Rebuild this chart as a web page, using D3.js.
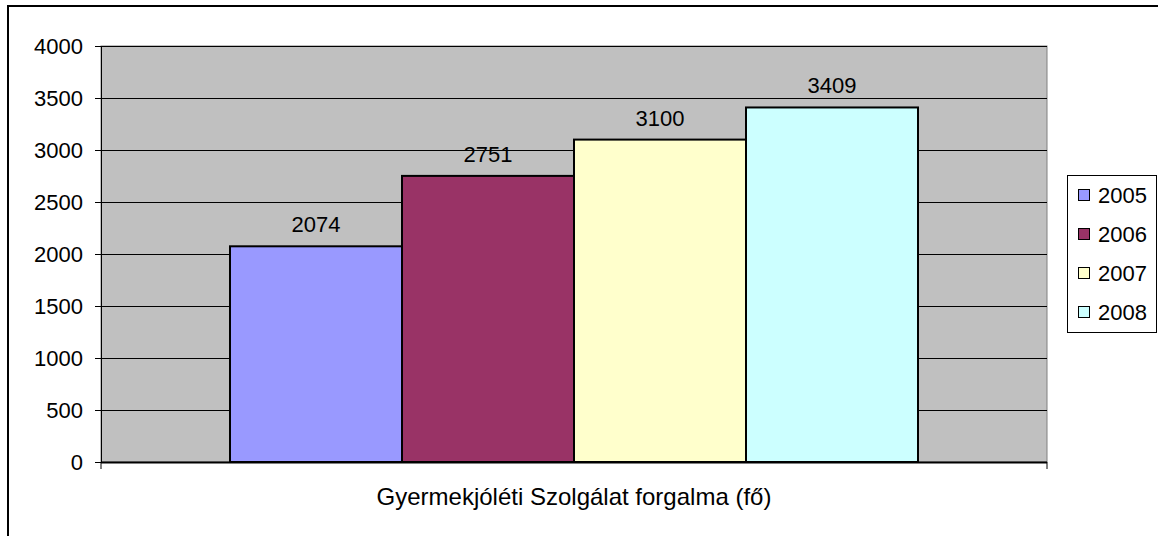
<!DOCTYPE html>
<html>
<head>
<meta charset="utf-8">
<script src="https://cdn.jsdelivr.net/npm/d3@7"></script>
<style>
  body { margin: 0; background: #fff; }
  svg text { font-family: Arial, "Liberation Sans", sans-serif; fill: #000; }
</style>
</head>
<body>
<div class="canvas"></div>
<script>
// chart data
const category = 'Gyermekjóléti Szolgálat forgalma (fő)';
const years = ['2005', '2006', '2007', '2008'];
const values = [2074, 2751, 3100, 3409];
const yTicks = [0, 500, 1000, 1500, 2000, 2500, 3000, 3500, 4000];
const colors = ['#9999ff', '#993366', '#ffffcc', '#ccffff'];

// plot area
const plot = { left: 101, top: 46, right: 1047, bottom: 462 };

const svg = d3.select('.canvas')
  .append('svg')
  .attr('width', 1158)
  .attr('height', 536);

// chart border
svg.append('rect')
  .attr('x', 8).attr('y', 6)
  .attr('width', 1170).attr('height', 550)
  .attr('fill', '#fff')
  .attr('stroke', '#000')
  .attr('stroke-width', 2);

// scales
const y = d3.scaleLinear()
  .domain([0, 4000])
  .range([plot.bottom, plot.top]);

const x0 = d3.scaleBand()
  .domain([category])
  .range([plot.left, plot.right]);

// gap width 150% -> bars take 4 / 5.5 of the band
const groupW = x0.bandwidth() * 4 / 5.5;
const x1 = d3.scaleBand()
  .domain(years)
  .range([x0(category) + (x0.bandwidth() - groupW) / 2, x0(category) + (x0.bandwidth() + groupW) / 2]);

// plot background
svg.append('rect')
  .attr('x', plot.left).attr('y', plot.top)
  .attr('width', plot.right - plot.left)
  .attr('height', plot.bottom - plot.top)
  .attr('fill', '#c0c0c0')
  .attr('stroke', '#808080')
  .attr('stroke-width', 1);

// gridlines
svg.append('g')
  .selectAll('line')
  .data(yTicks.filter(d => d > 0))
  .enter().append('line')
    .attr('x1', plot.left).attr('x2', plot.right)
    .attr('y1', d => Math.round(y(d)) + 0.5)
    .attr('y2', d => Math.round(y(d)) + 0.5)
    .attr('stroke', '#000')
    .attr('stroke-width', 1);

// y axis
const yAxis = d3.axisLeft(y)
  .tickValues(yTicks)
  .tickSize(6)
  .tickPadding(12)
  .tickFormat(d3.format('d'));

const yAxisGroup = svg.append('g')
  .attr('transform', `translate(${plot.left}, 0)`)
  .call(yAxis);
yAxisGroup.select('.domain').attr('stroke', '#000');
yAxisGroup.selectAll('.tick line').attr('stroke', '#000');
yAxisGroup.selectAll('text')
  .attr('font-size', '22px')
  .attr('font-family', 'Arial, "Liberation Sans", sans-serif')
  .attr('fill', '#000');

// bars
svg.append('g')
  .selectAll('rect')
  .data(values)
  .enter().append('rect')
    .attr('x', (d, i) => x1(years[i]))
    .attr('y', d => y(d))
    .attr('width', x1.bandwidth())
    .attr('height', d => y(0) - y(d))
    .attr('fill', (d, i) => colors[i])
    .attr('stroke', '#000')
    .attr('stroke-width', 2);

// value labels
svg.append('g')
  .selectAll('text')
  .data(values)
  .enter().append('text')
    .attr('x', (d, i) => x1(years[i]) + x1.bandwidth() / 2)
    .attr('y', d => y(d) - 14)
    .attr('text-anchor', 'middle')
    .attr('font-size', '22px')
    .text(d => d);

// x axis line and boundary ticks
const xAxisGroup = svg.append('g');
xAxisGroup.append('line')
  .attr('x1', plot.left).attr('x2', plot.right)
  .attr('y1', plot.bottom + 0.5).attr('y2', plot.bottom + 0.5)
  .attr('stroke', '#000').attr('stroke-width', 2);
xAxisGroup.selectAll('.bt')
  .data(x0.range())
  .enter().append('line')
    .attr('class', 'bt')
    .attr('x1', d => d).attr('x2', d => d)
    .attr('y1', plot.bottom).attr('y2', plot.bottom + 7)
    .attr('stroke', '#000');

// category label
svg.append('text')
  .attr('x', x0(category) + x0.bandwidth() / 2)
  .attr('y', 505)
  .attr('text-anchor', 'middle')
  .attr('font-size', '24px')
  .text(category);

// legend
const legendGroup = svg.append('g');
legendGroup.append('rect')
  .attr('x', 1067.5).attr('y', 175.5)
  .attr('width', 89).attr('height', 157)
  .attr('fill', '#fff')
  .attr('stroke', '#000')
  .attr('stroke-width', 1);

const items = legendGroup.selectAll('.item')
  .data(years)
  .enter().append('g')
    .attr('class', 'item')
    .attr('transform', (d, i) => `translate(1078, ${195 + i * 39})`);

items.append('rect')
  .attr('x', 0.5).attr('y', -5.5)
  .attr('width', 11).attr('height', 11)
  .attr('fill', (d, i) => colors[i])
  .attr('stroke', '#000');

items.append('text')
  .attr('x', 20)
  .attr('y', 8)
  .attr('font-size', '22px')
  .text(d => d);
</script>
</body>
</html>
